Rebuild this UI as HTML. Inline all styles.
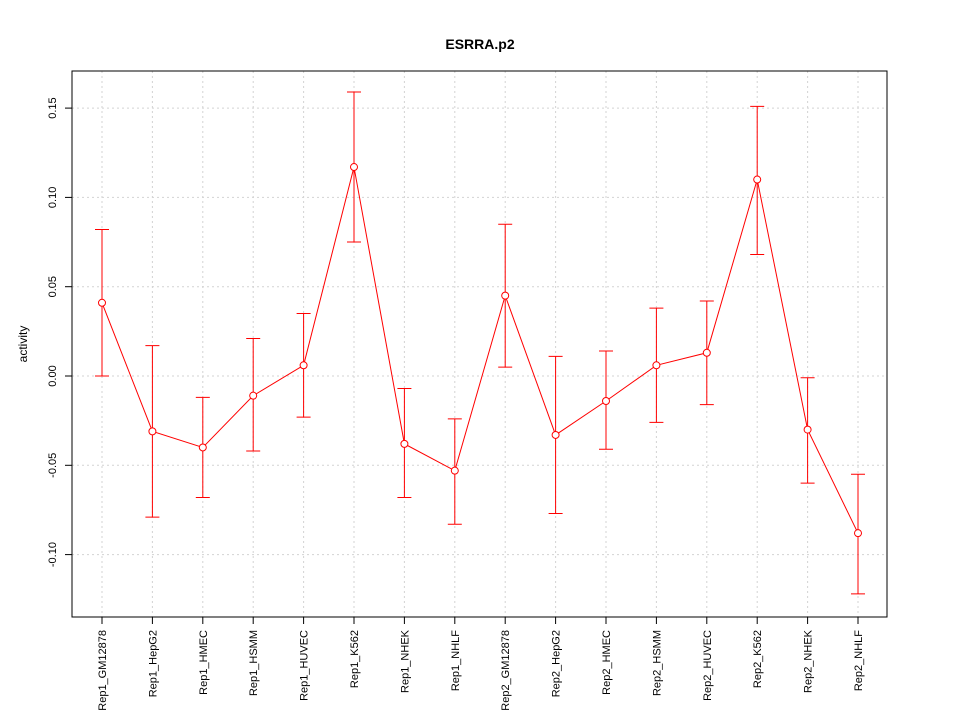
<!DOCTYPE html>
<html><head><meta charset="utf-8"><style>
body{margin:0;background:#fff;}
svg text{font-family:"Liberation Sans",sans-serif;}
</style></head><body>
<svg id="c" width="960" height="720" xmlns="http://www.w3.org/2000/svg">
<rect width="960" height="720" fill="#fff"/>
<text x="480" y="49" text-anchor="middle" font-size="14" font-weight="bold">ESRRA.p2</text>
<text transform="translate(27,344) rotate(-90)" text-anchor="middle" font-size="12">activity</text>
<g id="grid"></g><g id="axes"></g><g id="marks"></g>
<rect x="72" y="71" width="815" height="546" fill="none" stroke="#000"/>
</svg>
<script>
const categories=["Rep1_GM12878","Rep1_HepG2","Rep1_HMEC","Rep1_HSMM","Rep1_HUVEC","Rep1_K562","Rep1_NHEK","Rep1_NHLF","Rep2_GM12878","Rep2_HepG2","Rep2_HMEC","Rep2_HSMM","Rep2_HUVEC","Rep2_K562","Rep2_NHEK","Rep2_NHLF"];
const values=[0.041,-0.031,-0.040,-0.011,0.006,0.117,-0.038,-0.053,0.045,-0.033,-0.014,0.006,0.013,0.110,-0.030,-0.088];
const upper=[0.082,0.017,-0.012,0.021,0.035,0.159,-0.007,-0.024,0.085,0.011,0.014,0.038,0.042,0.151,-0.001,-0.055];
const lower=[0.000,-0.079,-0.068,-0.042,-0.023,0.075,-0.068,-0.083,0.005,-0.077,-0.041,-0.026,-0.016,0.068,-0.060,-0.122];
const yTicks=[-0.10,-0.05,0.00,0.05,0.10,0.15];
const yTickLabels=["-0.10","-0.05","0.00","0.05","0.10","0.15"];
const NS="http://www.w3.org/2000/svg";
function X(i){return 102+i*(858-102)/(categories.length-1);}
function Y(v){return 376-v*1786;}
function mk(p,t,a){const e=document.createElementNS(NS,t);for(const k in a)e.setAttribute(k,a[k]);p.appendChild(e);return e;}
const grid=document.getElementById('grid'),axes=document.getElementById('axes'),marks=document.getElementById('marks');
categories.forEach((c,i)=>{
 const g=mk(grid,'line',{x1:X(i),x2:X(i),y1:71,y2:617,stroke:'#d3d3d3','stroke-dasharray':'2,3'});
 
 
 const t=mk(axes,'line',{x1:X(i),x2:X(i),y1:617,y2:624,stroke:'#000'});
 
 
 const l=mk(axes,'text',{transform:`translate(${X(i)+4},630) rotate(-90)`,'text-anchor':'end','font-size':'11'});
 l.textContent=c;
 
 
});
yTicks.forEach((v,i)=>{
 const g=mk(grid,'line',{x1:72,x2:887,y1:Y(v),y2:Y(v),stroke:'#d3d3d3','stroke-dasharray':'2,3'});
 
 
 const t=mk(axes,'line',{x1:65,x2:72,y1:Y(v),y2:Y(v),stroke:'#000'});
 
 
 const l=mk(axes,'text',{transform:`translate(56,${Y(v)}) rotate(-90)`,'text-anchor':'middle','font-size':'11'});
 l.textContent=yTickLabels[i];
 
 
});
categories.forEach((c,i)=>{
 const e=mk(marks,'path',{d:`M${X(i)},${Y(lower[i])}V${Y(upper[i])}M${X(i)-7},${Y(upper[i])}h14M${X(i)-7},${Y(lower[i])}h14`,stroke:'#ff0000',fill:'none'});
 
 
});
const ln=mk(marks,'polyline',{points:values.map((v,i)=>X(i)+','+Y(v)).join(' '),stroke:'#ff0000',fill:'none'});


values.forEach((v,i)=>{
 const p=mk(marks,'circle',{cx:X(i),cy:Y(v),r:3.5,stroke:'#ff0000',fill:'#fff'});
 
 
});
</script>
</body></html>
